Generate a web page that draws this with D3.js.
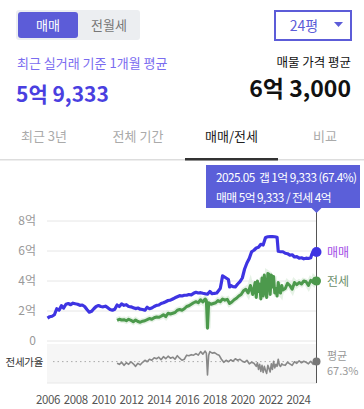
<!DOCTYPE html>
<html>
<head>
<meta charset="utf-8">
<script src="https://cdn.jsdelivr.net/npm/d3@7"></script>
<style>
  body { margin: 0; background: #fff; }
  svg { display: block; font-family: "Noto Sans CJK KR", "Noto Sans", sans-serif; }
</style>
</head>
<body>
<svg id="chart" width="364" height="409"></svg>
<script>
// 매매 (sale) price, 억 원
var maemaeMonths = ["2006.01","2006.03","2006.05","2006.07","2006.09","2006.11","2007.01","2007.03","2007.05","2007.07","2007.09","2007.11",
  "2008.01","2008.03","2008.05","2008.07","2008.09","2008.11","2009.01","2009.03","2009.05","2009.07","2009.09","2009.11",
  "2010.01","2010.03","2010.05","2010.07","2010.09","2010.11","2011.01","2011.03","2011.05","2011.07","2011.09","2011.11",
  "2012.01","2012.03","2012.05","2012.07","2012.09","2012.11","2013.01","2013.03","2013.05","2013.07","2013.09","2013.11",
  "2014.01","2014.03","2014.05","2014.07","2014.09","2014.11","2015.01","2015.03","2015.05","2015.07","2015.09","2015.11",
  "2016.01","2016.03","2016.05","2016.07","2016.09","2016.11","2017.01","2017.03","2017.05","2017.07","2017.09","2017.11",
  "2018.01","2018.03","2018.05","2018.06","2018.07","2018.08","2018.09","2018.11","2019.01","2019.02","2019.03","2019.05",
  "2019.07","2019.09","2019.11","2020.01","2020.03","2020.05","2020.07","2020.09","2020.11","2021.01","2021.03","2021.05",
  "2021.07","2021.09","2021.11","2022.01","2022.03","2022.05","2022.07","2022.08","2022.10","2022.12","2023.02","2023.04",
  "2023.06","2023.08","2023.10","2023.12","2024.02","2024.04","2024.06","2024.08","2024.10","2024.12","2025.01","2025.02",
  "2025.03","2025.05"];
var maemaeValues = [1.52,1.62,1.65,1.75,2.15,2.05,2.35,2.2,2.45,2.5,2.42,2.52,
  2.48,2.45,2.38,2.4,2.3,2.1,1.92,1.98,2.15,2.3,2.36,2.3,
  2.28,2.32,2.22,2.1,2.05,2.12,2.4,2.3,2.47,2.38,2.42,2.3,
  2.28,2.22,2.16,2.2,2.12,2.1,2.05,2.25,2.15,2.2,2.3,2.38,
  2.4,2.5,2.55,2.62,2.7,2.72,2.8,2.88,2.95,3.02,3.0,3.05,
  3.05,3.1,3.08,3.18,3.25,3.2,3.22,3.18,3.15,3.12,3.3,3.15,
  3.18,3.2,3.4,3.5,3.9,4.35,4.3,4.2,4.1,3.6,3.7,3.62,
  3.6,3.8,3.96,4.2,4.8,5.2,5.5,5.95,6.05,6.2,6.25,6.45,
  6.4,6.9,6.95,6.96,6.96,6.95,6.92,5.98,5.95,5.95,5.85,5.82,
  5.72,5.75,5.6,5.62,5.52,5.55,5.48,5.52,5.5,5.55,5.8,5.95,
  5.85,5.9333];

// 전세 (jeonse) deposit, 억 원
var jeonseMonths = ["2011.01","2011.03","2011.05","2011.07","2011.09","2011.11","2012.01","2012.03","2012.05","2012.07","2012.09","2012.11",
  "2013.01","2013.03","2013.05","2013.07","2013.09","2013.11","2014.01","2014.03","2014.05","2014.07","2014.09","2014.11",
  "2015.01","2015.03","2015.05","2015.07","2015.09","2015.11","2016.01","2016.03","2016.05","2016.07","2016.09","2016.11",
  "2017.01","2017.03","2017.05","2017.06","2017.07","2017.08","2017.10","2017.12","2018.02","2018.04","2018.06","2018.08",
  "2018.10","2018.12","2019.02","2019.04","2019.06","2019.08","2019.10","2019.12","2020.02","2020.04","2020.06","2020.08",
  "2020.10","2020.12","2021.01","2021.02","2021.03","2021.04","2021.05","2021.06","2021.07","2021.08","2021.09","2021.10",
  "2021.11","2021.12","2022.01","2022.02","2022.03","2022.04","2022.05","2022.06","2022.07","2022.08","2022.09","2022.10",
  "2022.11","2022.12","2023.02","2023.04","2023.06","2023.08","2023.10","2023.12","2024.02","2024.04","2024.06","2024.08",
  "2024.10","2024.12","2025.02","2025.03","2025.05"];
var jeonseValues = [1.38,1.45,1.4,1.42,1.35,1.45,1.38,1.28,1.4,1.3,1.25,1.32,
  1.35,1.42,1.5,1.45,1.55,1.6,1.58,1.65,1.75,1.62,1.85,1.8,
  1.85,1.9,2.05,2.1,2.05,2.15,2.3,2.35,2.45,2.55,2.62,2.55,
  2.75,2.6,2.8,2.7,0.85,2.55,2.45,2.5,2.55,2.7,2.62,2.8,
  2.72,2.78,2.5,2.6,2.75,2.85,3.0,3.1,3.35,3.45,3.2,3.7,
  3.1,3.9,2.9,4.0,3.3,3.8,2.8,4.2,3.0,4.4,3.4,2.9,
  4.5,4.45,3.1,4.4,3.6,4.3,3.2,3.5,3.0,3.9,3.3,3.2,
  3.7,3.4,3.5,3.85,3.7,3.45,3.9,3.75,3.9,3.8,4.0,3.95,
  3.7,4.05,3.9,4.15,4.0];

// 전세가율 (%)
var ratioMonths = ["2011.01","2011.03","2011.05","2011.07","2011.09","2011.11","2012.01","2012.03","2012.05","2012.07","2012.09","2012.11",
  "2013.01","2013.03","2013.05","2013.07","2013.09","2013.11","2014.01","2014.03","2014.05","2014.07","2014.09","2014.11",
  "2015.01","2015.03","2015.05","2015.07","2015.09","2015.11","2016.01","2016.03","2016.05","2016.07","2016.09","2016.11",
  "2017.01","2017.03","2017.05","2017.06","2017.07","2017.08","2017.09","2017.11","2018.01","2018.03","2018.05","2018.07",
  "2018.09","2018.11","2019.01","2019.03","2019.05","2019.07","2019.09","2019.11","2020.01","2020.03","2020.05","2020.07",
  "2020.09","2020.11","2021.01","2021.02","2021.03","2021.04","2021.05","2021.06","2021.07","2021.08","2021.09","2021.10",
  "2021.11","2021.12","2022.01","2022.02","2022.03","2022.04","2022.05","2022.06","2022.07","2022.08","2022.09","2022.10",
  "2022.11","2022.12","2023.02","2023.04","2023.06","2023.08","2023.10","2023.12","2024.02","2024.04","2024.06","2024.08",
  "2024.10","2024.12","2025.02","2025.03","2025.05"];
var ratioValues = [64,62,66,60,65,62,67,63,58,64,61,66,
  70,67,72,70,75,73,76,71,77,73,78,74,
  76,72,79,74,70,72,80,79,81,80,83,80,
  87,82,88,84,41,80,87,84,85,82,80,72,
  66,70,67,71,68,73,70,72,68,66,70,63,
  66,64,58,65,52,62,48,60,46,58,50,44,
  60,54,47,63,52,68,55,62,58,72,60,58,
  63,61,60,66,63,60,67,64,69,65,68,66,
  63,68,62,70,67.4];
var ratioAverage = 67.3;

var yTicks = [0, 2, 4, 6, 8];
var yTickLabels = ["0", "2억", "4억", "6억", "8억"];
var xTickYears = ["2006","2008","2010","2012","2014","2016","2018","2020","2022","2024"];
var tabLabels = ["최근 3년", "전체 기간", "매매/전세", "비교"];
var tooltipLines = ["2025.05  갭 1억 9,333 (67.4%)", "매매 5억 9,333 / 전세 4억"];

var parseMonth = d3.timeParse("%Y.%m");
var svg = d3.select("#chart");

var x = d3.scaleTime()
    .domain([parseMonth("2006.01"), parseMonth("2025.05")])
    .range([47.5, 316.5]);
var y = d3.scaleLinear().domain([0, 8]).range([341, 221]);
var yRatio = d3.scaleLinear().domain([40, 100]).range([375.5, 345]).clamp(true);

var PURPLE = "#5c5cd8", BLUE = "#3e34e2", GREEN = "#4c994c", GRAY = "#888";

// ---- header ----
svg.append("rect").attr("x", 16).attr("y", 10).attr("width", 124).attr("height", 30)
    .attr("rx", 3).attr("fill", "#eceef1");
svg.append("rect").attr("x", 18).attr("y", 12).attr("width", 60).attr("height", 26)
    .attr("rx", 3).attr("fill", PURPLE);
svg.append("text").attr("x", 48).attr("y", 30).attr("text-anchor", "middle")
    .attr("font-size", 13).attr("fill", "#fff").text("매매");
svg.append("text").attr("x", 109).attr("y", 30).attr("text-anchor", "middle")
    .attr("font-size", 13).attr("fill", "#777").text("전월세");

svg.append("rect").attr("x", 275).attr("y", 11).attr("width", 76).attr("height", 29)
    .attr("fill", "#fff").attr("stroke", PURPLE).attr("stroke-width", 2);
svg.append("text").attr("x", 304).attr("y", 31).attr("text-anchor", "middle")
    .attr("font-size", 14).attr("fill", PURPLE).text("24평");
svg.append("path").attr("d", "M334,22L343,22L338.5,27Z").attr("fill", PURPLE);

svg.append("text").attr("x", 17).attr("y", 68).attr("font-size", 13)
    .attr("fill", "#7a6cf0").text("최근 실거래 기준 1개월 평균");
svg.append("text").attr("x", 16).attr("y", 102).attr("font-size", 21).attr("font-weight", "bold")
    .attr("fill", "#4a3fe0").text("5억 9,333");
svg.append("text").attr("x", 351).attr("y", 67).attr("text-anchor", "end").attr("font-size", 12.5)
    .attr("fill", "#111").text("매물 가격 평균");
svg.append("text").attr("x", 351).attr("y", 97).attr("text-anchor", "end").attr("font-size", 23)
    .attr("font-weight", "bold").attr("fill", "#111").text("6억 3,000");

// ---- tabs ----
var tabX = [44, 138, 231.5, 325];
svg.selectAll("text.tab").data(tabLabels).enter().append("text")
    .attr("class", "tab")
    .attr("x", function(d, i) { return tabX[i]; })
    .attr("y", 141)
    .attr("text-anchor", "middle")
    .attr("font-size", 13)
    .attr("fill", function(d, i) { return i == 2 ? "#222" : "#aaa"; })
    .text(function(d) { return d; });
svg.append("rect").attr("x", 0).attr("y", 159).attr("width", 364).attr("height", 1.5).attr("fill", "#ddd");
svg.append("rect").attr("x", 185).attr("y", 158).attr("width", 93).attr("height", 2.5).attr("fill", "#333");

// ---- grid + y axis ----
svg.selectAll("line.grid").data(yTicks).enter().append("line")
    .attr("class", "grid")
    .attr("x1", 47).attr("x2", 316.5)
    .attr("y1", function(d) { return y(d); })
    .attr("y2", function(d) { return y(d); })
    .attr("stroke", "#e6e6e6").attr("stroke-width", 1);

var yAxis = svg.append("g").attr("transform", "translate(40,0)")
    .call(d3.axisLeft(y).tickValues(yTicks).tickSize(0).tickPadding(4)
        .tickFormat(function(d, i) { return yTickLabels[i]; }));
yAxis.select(".domain").remove();
yAxis.selectAll("text").attr("font-size", 12).attr("fill", "#999")
    .attr("font-family", "'Noto Sans CJK KR', sans-serif");

// ---- ratio panel ----
svg.append("rect").attr("x", 47).attr("y", 344).attr("width", 270).attr("height", 39).attr("fill", "#f6f6f6");
svg.append("line").attr("x1", 47).attr("x2", 317).attr("y1", 383).attr("y2", 383)
    .attr("stroke", "#e8e8e8");
svg.append("line").attr("x1", 53).attr("x2", 316)
    .attr("y1", yRatio(ratioAverage)).attr("y2", yRatio(ratioAverage))
    .attr("stroke", "#aaa").attr("stroke-width", 1).attr("stroke-dasharray", "1.5,3");
svg.append("text").attr("x", 43).attr("y", yRatio(ratioAverage) + 4).attr("text-anchor", "end")
    .attr("font-size", 10.5).attr("letter-spacing", "-0.3").attr("fill", "#333").text("전세가율");

var ratioData = ratioMonths.map(function(m, i) { return {date: parseMonth(m), v: ratioValues[i]}; });
svg.append("path").datum(ratioData)
    .attr("fill", "none").attr("stroke", GRAY).attr("stroke-width", 1.6)
    .attr("stroke-linejoin", "round")
    .attr("d", d3.line().x(function(d) { return x(d.date); }).y(function(d) { return yRatio(d.v); }));

// ---- price lines ----
var maemaeData = maemaeMonths.map(function(m, i) { return {date: parseMonth(m), v: maemaeValues[i]}; });
var jeonseData = jeonseMonths.map(function(m, i) { return {date: parseMonth(m), v: jeonseValues[i]}; });
var priceLine = d3.line().x(function(d) { return x(d.date); }).y(function(d) { return y(d.v); });

svg.append("path").datum(jeonseData)
    .attr("fill", "none").attr("stroke", "#dcecdc").attr("stroke-width", 6).attr("opacity", 0.7)
    .attr("d", priceLine);
svg.append("path").datum(jeonseData)
    .attr("fill", "none").attr("stroke", GREEN).attr("stroke-width", 3)
    .attr("stroke-linejoin", "round").attr("d", priceLine);
svg.append("path").datum(maemaeData)
    .attr("fill", "none").attr("stroke", BLUE).attr("stroke-width", 3.2)
    .attr("stroke-linejoin", "round").attr("d", priceLine);

// ---- cursor line ----
var lastDate = parseMonth("2025.05");
svg.append("line").attr("x1", x(lastDate)).attr("x2", x(lastDate)).attr("y1", 208).attr("y2", 383)
    .attr("stroke", "#555").attr("stroke-width", 1);

var lastM = maemaeData[maemaeData.length - 1], lastJ = jeonseData[jeonseData.length - 1],
    lastR = ratioData[ratioData.length - 1];
svg.append("circle").attr("cx", x(lastM.date)).attr("cy", y(lastM.v)).attr("r", 5).attr("fill", BLUE);
svg.append("circle").attr("cx", x(lastJ.date)).attr("cy", y(lastJ.v)).attr("r", 4.5).attr("fill", GREEN);
svg.append("circle").attr("cx", x(lastR.date)).attr("cy", yRatio(ratioAverage)).attr("r", 4).attr("fill", "#777");

svg.append("text").attr("x", 327).attr("y", y(lastM.v) + 4.5).attr("font-size", 12)
    .attr("fill", "#a24be6").text("매매");
svg.append("text").attr("x", 327).attr("y", y(lastJ.v) + 4.5).attr("font-size", 12)
    .attr("fill", "#6b8f6b").text("전세");
svg.append("text").attr("x", 327).attr("y", 360).attr("font-size", 11).attr("fill", "#999").text("평균");
svg.append("text").attr("x", 327).attr("y", 375).attr("font-size", 11).attr("fill", "#999").text(ratioAverage + "%");

// ---- tooltip ----
svg.append("rect").attr("x", 206).attr("y", 165).attr("width", 154).attr("height", 43).attr("fill", "#5b5fd9");
svg.append("path").attr("d", "M" + (x(lastDate) - 5) + ",208L" + (x(lastDate) + 5) + ",208L" + x(lastDate) + ",213Z")
    .attr("fill", "#5b5fd9");
svg.selectAll("text.tip").data(tooltipLines).enter().append("text")
    .attr("class", "tip")
    .attr("x", 216)
    .attr("y", function(d, i) { return 182 + i * 20; })
    .attr("font-size", 11.8).attr("letter-spacing", "-0.55").attr("fill", "#fff")
    .attr("xml:space", "preserve")
    .style("white-space", "pre")
    .text(function(d) { return d; });

// ---- x axis ----
var xAxis = svg.append("g").attr("transform", "translate(0,396)")
    .call(d3.axisBottom(x).tickValues(xTickYears.map(function(yr) { return parseMonth(yr + ".01"); }))
        .tickSize(0).tickPadding(0).tickFormat(d3.timeFormat("%Y")));
xAxis.select(".domain").remove();
xAxis.selectAll("text").attr("font-size", 11.5).attr("fill", "#555").attr("letter-spacing", "-0.4")
    .attr("font-family", "'Noto Sans CJK KR', sans-serif");
</script>
</body>
</html>
